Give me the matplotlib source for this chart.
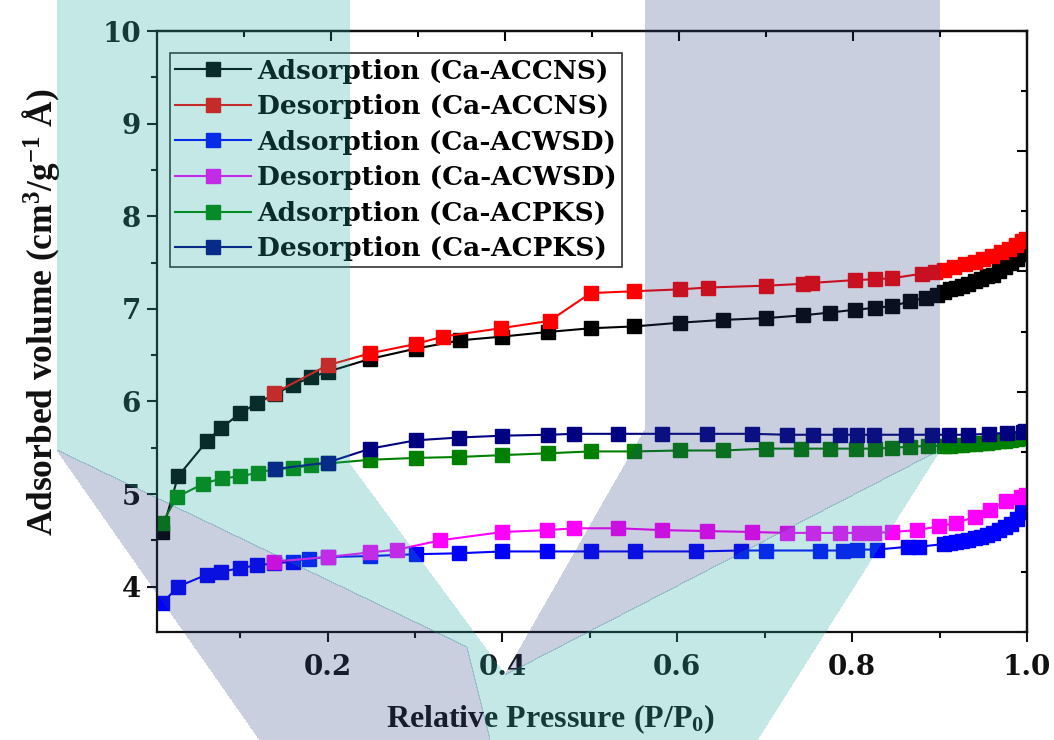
import matplotlib
matplotlib.use('Agg')
import matplotlib.pyplot as plt
from matplotlib.patches import Polygon
from matplotlib.ticker import MultipleLocator

plt.rcParams['mathtext.fontset'] = 'custom'
plt.rcParams['mathtext.rm'] = 'Liberation Serif:bold'
plt.rcParams['mathtext.it'] = 'Liberation Serif:italic:bold'
plt.rcParams['mathtext.bf'] = 'Liberation Serif:bold'

# ---------------- data ----------------
ads_ccns_x = [0.011, 0.029, 0.062, 0.078, 0.100, 0.119, 0.140, 0.161, 0.181, 0.200, 0.249, 0.301,
              0.352, 0.400, 0.452, 0.501, 0.551, 0.603, 0.652, 0.702, 0.744, 0.775, 0.803, 0.826,
              0.846, 0.866, 0.884, 0.897, 0.905, 0.912, 0.919, 0.926, 0.933, 0.940, 0.947, 0.954,
              0.961, 0.968, 0.975, 0.982, 0.988, 0.994, 0.999]
ads_ccns_y = [4.59, 5.19, 5.57, 5.71, 5.87, 5.98, 6.08, 6.18, 6.26, 6.32, 6.46, 6.57,
              6.66, 6.70, 6.75, 6.79, 6.81, 6.85, 6.88, 6.90, 6.93, 6.96, 6.99, 7.01,
              7.03, 7.08, 7.12, 7.15, 7.18, 7.21, 7.23, 7.25, 7.27, 7.30, 7.32, 7.35,
              7.37, 7.41, 7.45, 7.49, 7.54, 7.59, 7.65]

des_ccns_x = [0.999, 0.994, 0.987, 0.979, 0.970, 0.960, 0.950, 0.941, 0.929, 0.916, 0.905, 0.895,
              0.880, 0.846, 0.826, 0.803, 0.754, 0.744, 0.702, 0.635, 0.603, 0.551, 0.501, 0.454,
              0.398, 0.332, 0.301, 0.249, 0.200, 0.139]
des_ccns_y = [7.75, 7.73, 7.69, 7.65, 7.61, 7.57, 7.54, 7.51, 7.48, 7.45, 7.42, 7.40,
              7.38, 7.33, 7.32, 7.31, 7.28, 7.27, 7.25, 7.23, 7.21, 7.19, 7.17, 6.87,
              6.79, 6.70, 6.62, 6.52, 6.39, 6.09]

ads_wsd_x = [0.011, 0.029, 0.062, 0.078, 0.100, 0.119, 0.139, 0.160, 0.179, 0.200, 0.249, 0.301,
             0.350, 0.400, 0.451, 0.501, 0.552, 0.622, 0.673, 0.702, 0.763, 0.790, 0.806, 0.828,
             0.864, 0.876, 0.905, 0.912, 0.919, 0.926, 0.933, 0.940, 0.947, 0.954, 0.961, 0.968,
             0.975, 0.982, 0.988, 0.994, 0.999]
ads_wsd_y = [3.82, 4.00, 4.13, 4.16, 4.20, 4.23, 4.25, 4.27, 4.30, 4.32, 4.33, 4.35,
             4.36, 4.38, 4.38, 4.38, 4.38, 4.38, 4.39, 4.39, 4.39, 4.39, 4.40, 4.40,
             4.43, 4.43, 4.46, 4.47, 4.48, 4.49, 4.50, 4.52, 4.54, 4.56, 4.58, 4.61,
             4.64, 4.68, 4.73, 4.81, 4.89]

des_wsd_x = [0.999, 0.993, 0.976, 0.958, 0.940, 0.919, 0.899, 0.874, 0.846, 0.825, 0.808, 0.786,
             0.755, 0.726, 0.685, 0.634, 0.583, 0.532, 0.482, 0.451, 0.400, 0.329, 0.280, 0.249,
             0.200, 0.139]
des_wsd_y = [4.99, 4.97, 4.92, 4.83, 4.75, 4.69, 4.65, 4.61, 4.59, 4.58, 4.58, 4.58,
             4.58, 4.58, 4.59, 4.60, 4.61, 4.63, 4.63, 4.61, 4.59, 4.50, 4.40, 4.37,
             4.32, 4.27]

ads_pks_x = [0.011, 0.028, 0.058, 0.079, 0.100, 0.120, 0.140, 0.161, 0.181, 0.200, 0.249, 0.301,
             0.350, 0.400, 0.452, 0.501, 0.551, 0.603, 0.652, 0.702, 0.742, 0.775, 0.805, 0.826,
             0.846, 0.866, 0.887, 0.905, 0.912, 0.919, 0.926, 0.933, 0.940, 0.947, 0.954, 0.961,
             0.968, 0.975, 0.982, 0.988, 0.994, 0.999]
ads_pks_y = [4.69, 4.97, 5.11, 5.17, 5.19, 5.23, 5.27, 5.28, 5.31, 5.33, 5.37, 5.39,
             5.40, 5.42, 5.44, 5.46, 5.46, 5.47, 5.47, 5.49, 5.49, 5.49, 5.49, 5.49,
             5.50, 5.51, 5.52, 5.52, 5.52, 5.53, 5.53, 5.54, 5.54, 5.55, 5.55, 5.56,
             5.57, 5.57, 5.58, 5.59, 5.60, 5.61]

des_pks_x = [0.998, 0.995, 0.977, 0.956, 0.933, 0.911, 0.891, 0.862, 0.825, 0.806, 0.786, 0.755,
             0.726, 0.685, 0.634, 0.583, 0.532, 0.482, 0.452, 0.400, 0.350, 0.301, 0.249, 0.200,
             0.140]
des_pks_y = [5.68, 5.67, 5.66, 5.65, 5.64, 5.64, 5.64, 5.64, 5.64, 5.64, 5.64, 5.64,
             5.64, 5.65, 5.65, 5.65, 5.65, 5.65, 5.64, 5.63, 5.61, 5.58, 5.49, 5.34,
             5.27]

labels = ['Adsorption (Ca-ACCNS)', 'Desorption (Ca-ACCNS)', 'Adsorption (Ca-ACWSD)',
          'Desorption (Ca-ACWSD)', 'Adsorption (Ca-ACPKS)', 'Desorption (Ca-ACPKS)']
colors = ['#000000', '#ff0000', '#0000ff', '#ff00ff', '#008000', '#000080']

x_ticks = [0.2, 0.4, 0.6, 0.8, 1.0]
x_ticklabels = ['0.2', '0.4', '0.6', '0.8', '1.0']
y_ticks = [4, 5, 6, 7, 8, 9, 10]
y_ticklabels = ['4', '5', '6', '7', '8', '9', '10']

series = [(ads_ccns_x, ads_ccns_y), (des_ccns_x, des_ccns_y), (ads_wsd_x, ads_wsd_y),
          (des_wsd_x, des_wsd_y), (ads_pks_x, ads_pks_y), (des_pks_x, des_pks_y)]

# ---------------- figure ----------------
W, H = 1054, 740
fig = plt.figure(figsize=(W / 100, H / 100), dpi=100)
ax = fig.add_axes([157 / W, 1 - 632 / H, 870 / W, 601 / H])

for (xs, ys), lab, c in zip(series, labels, colors):
    ax.plot(xs, ys, '-s', color=c, lw=1.5, ms=10.5, mfc=c, mec=c, label=lab)

xmin, xmax = 0.005, 1.0
y0, y1 = 3.51, 10.0
ax.set_xlim(xmin, xmax)
ax.set_ylim(y0, y1)
ax.set_xticks(x_ticks)
ax.set_xticklabels(x_ticklabels)
ax.set_yticks(y_ticks)
ax.set_yticklabels(y_ticklabels)
ax.xaxis.set_minor_locator(MultipleLocator(0.1))
ax.yaxis.set_minor_locator(MultipleLocator(0.5))

for sp in ax.spines.values():
    sp.set_linewidth(1.6)
    sp.set_color('#111111')

ax.tick_params(which='major', direction='out', length=7.5, width=1.5, pad=4, colors='#111111')
ax.tick_params(which='minor', direction='out', length=4.5, width=1.5, colors='#111111')
for t in ax.get_xticklabels() + ax.get_yticklabels():
    t.set_fontfamily('DejaVu Serif')
    t.set_fontweight('bold')
    t.set_fontsize(20)
ax.tick_params(axis='x', which='major', pad=8)

# mirrored top / right axes (axes-fraction scale, inward ticks)
secx = ax.secondary_xaxis('top', functions=(lambda v: (v - xmin) / (xmax - xmin),
                                            lambda f: xmin + f * (xmax - xmin)))
secx.xaxis.set_major_locator(MultipleLocator(0.2))
secx.xaxis.set_minor_locator(MultipleLocator(0.1))
secx.tick_params(which='major', direction='in', length=7.5, width=1.5, labeltop=False)
secx.tick_params(which='minor', direction='in', length=4.5, width=1.5)
secx.spines['top'].set_linewidth(1.6)

secy = ax.secondary_yaxis('right', functions=(lambda v: (v - y0) / (y1 - y0),
                                              lambda f: y0 + f * (y1 - y0)))
secy.yaxis.set_major_locator(MultipleLocator(0.2))
secy.yaxis.set_minor_locator(MultipleLocator(0.1))
secy.tick_params(which='major', direction='in', length=7.5, width=1.5, labelright=False)
secy.tick_params(which='minor', direction='in', length=4.5, width=1.5)
secy.spines['right'].set_linewidth(1.6)

ax.set_xlabel('Relative Pressure (P/P$_\\mathrm{0}$)', fontfamily='Liberation Serif',
              fontweight='bold', fontsize=23, color='#111111')
ax.xaxis.set_label_coords((551 - 157) / 870, -(702 - 632) / 601)
ax.set_ylabel('Adsorbed volume (cm$^\\mathrm{3}$/g$^\\mathrm{-1}$ Å)', fontfamily='Liberation Serif',
              fontweight='bold', fontsize=25.5, color='#111111')
ax.yaxis.set_label_coords((62 - 157) / 870, 1 - (312 - 31) / 601)

leg = ax.legend(loc='upper left', bbox_to_anchor=(0.015, 0.963), borderaxespad=0,
                prop=dict(family='DejaVu Serif', weight='bold', size=19),
                frameon=True, fancybox=False, edgecolor='#333333', framealpha=1,
                handlelength=2.85, handletextpad=0.25, labelspacing=0.40, borderpad=0.2,
                markerscale=1.0)
leg.get_frame().set_linewidth(1.2)

# ---------------- watermark overlay ----------------
ov = fig.add_axes([0, 0, 1, 1], zorder=10)
ov.set_xlim(0, W)
ov.set_ylim(H, 0)
ov.axis('off')
ov.patch.set_alpha(0)
teal = '#1eaba0'
slate = '#284080'
shapes = [
    ([(57, 0), (350, 0), (350, 465), (505, 675), (940, 450), (757, 740), (490, 740),
      (467, 647), (57, 450)], teal, 0.263),
    ([(57, 450), (467, 647), (490, 740), (260, 740)], slate, 0.25),
    ([(645, 0), (940, 0), (940, 450), (505, 675), (645, 430)], slate, 0.25),
]
for pts, col, a in shapes:
    ov.add_patch(Polygon(pts, closed=True, facecolor=col, edgecolor='none', alpha=a,
                         antialiased=False))

fig.savefig('out.png', dpi=100)
